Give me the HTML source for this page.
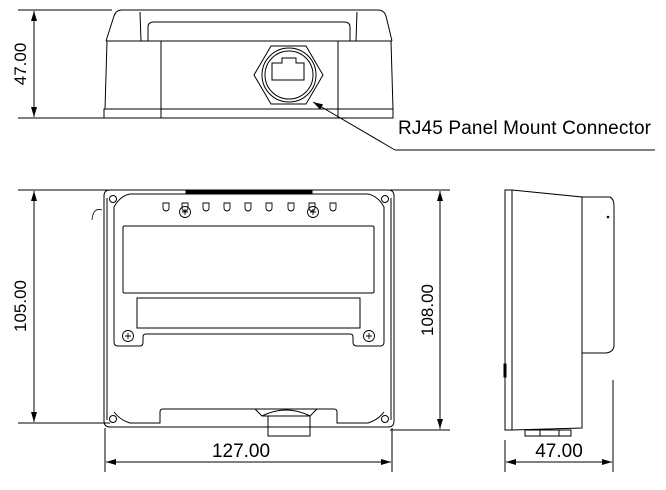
<!DOCTYPE html>
<html><head><style>body{margin:0;background:#fff}svg{display:block}</style></head><body>
<svg width="666" height="490" viewBox="0 0 666 490" xmlns="http://www.w3.org/2000/svg" font-family="Liberation Sans, sans-serif" fill="none" stroke="#000" stroke-width="1">
<defs><marker id="a" viewBox="0 0 10 6" refX="10" refY="3" markerWidth="10" markerHeight="6" orient="auto-start-reverse"><path d="M0,0L10,3L0,6z" fill="#000" stroke="none"/></marker></defs>
<!-- TOP VIEW -->
<line x1="18" y1="10" x2="112" y2="10"/><line x1="18" y1="118" x2="104" y2="118"/>
<line x1="34" y1="11" x2="34" y2="117" marker-start="url(#a)" marker-end="url(#a)"/>
<text x="0" y="0" transform="translate(26,64) rotate(-90)" text-anchor="middle" font-size="17" fill="#000" stroke="none">47.00</text>
<path d="M106,41 L114,16 Q116,10 122,10 L378,10 Q384,10 386,16 L392,41"/>
<path d="M140,12 L141,41 M357,12 L356,41"/>
<path d="M148,41 L148,27 Q148,22 154,22 L344,22 Q350,22 350,27 L350,41"/>
<line x1="106" y1="41" x2="392" y2="41"/>
<path d="M107,41 L105,109 M391,41 L393,109"/>
<rect x="104" y="109" width="289" height="9"/>
<path d="M161,41 V118 M338,41 V118"/>
<polygon points="254,75 271,46 306,46 323,75 306,104 271,104"/>
<circle cx="289" cy="75" r="27"/><circle cx="289" cy="75" r="24"/>
<path d="M272,80 V63 H282 V58 H296 V63 H304 V80 Z"/>
<line x1="395" y1="150" x2="313" y2="102" marker-end="url(#a)"/>
<line x1="395" y1="150" x2="655" y2="150"/>
<text x="398" y="134" font-size="19" textLength="253" fill="#000" stroke="none">RJ45 Panel Mount Connector</text>
<!-- FRONT VIEW -->
<line x1="18" y1="190" x2="110" y2="190"/><line x1="18" y1="423" x2="110" y2="423"/>
<line x1="34" y1="191" x2="34" y2="422" marker-start="url(#a)" marker-end="url(#a)"/>
<text transform="translate(26,306) rotate(-90)" text-anchor="middle" font-size="17" fill="#000" stroke="none">105.00</text>
<line x1="390" y1="190" x2="450" y2="190"/><line x1="390" y1="430" x2="450" y2="430"/>
<line x1="440" y1="191" x2="440" y2="429" marker-start="url(#a)" marker-end="url(#a)"/>
<text transform="translate(433,310) rotate(-90)" text-anchor="middle" font-size="17" fill="#000" stroke="none">108.00</text>
<line x1="105" y1="428" x2="105" y2="472"/><line x1="392" y1="428" x2="392" y2="472"/>
<line x1="106" y1="462" x2="391" y2="462" marker-start="url(#a)" marker-end="url(#a)"/>
<text x="241" y="457" text-anchor="middle" font-size="19" fill="#000" stroke="none">127.00</text>
<path d="M110,190 H388 Q394,190 394,196 V421 Q394,427 388,427 H110 Q104,427 104,421 V196 Q104,190 110,190 Z"/>
<line x1="107" y1="198" x2="107" y2="420"/><line x1="391" y1="198" x2="391" y2="420"/>
<path d="M114,207 Q120,196 130,194 L368,194 Q378,196 384,207"/>
<rect x="186" y="190" width="126" height="3" fill="#000"/>
<circle cx="113" cy="199" r="3.5"/><circle cx="385" cy="199" r="3.5"/><circle cx="113" cy="419" r="3.5"/><circle cx="385" cy="419" r="3.5"/>
<path d="M102,210 Q93,207 92,220" stroke-width="0.8"/>
<g stroke-width="0.9">
<path d="M163,203 v5 a3,3 0 0 0 6,0 v-5z M182,203 v5 a3,3 0 0 0 6,0 v-5z M203,203 v5 a3,3 0 0 0 6,0 v-5z M224,203 v5 a3,3 0 0 0 6,0 v-5z M245,203 v5 a3,3 0 0 0 6,0 v-5z M266,203 v5 a3,3 0 0 0 6,0 v-5z M288,203 v5 a3,3 0 0 0 6,0 v-5z M309,203 v5 a3,3 0 0 0 6,0 v-5z M330,203 v5 a3,3 0 0 0 6,0 v-5z"/>
<circle cx="185" cy="212" r="5.5"/><path d="M182,212h6M185,209v6"/>
<circle cx="313" cy="212" r="5.5"/><path d="M310,212h6M313,209v6"/>
<circle cx="128" cy="336" r="5.5"/><path d="M125,336h6M128,333v6"/>
<circle cx="369" cy="336" r="5.5"/><path d="M366,336h6M369,333v6"/>
</g>
<rect x="123" y="226" width="251" height="67" rx="1.5"/>
<rect x="137" y="298" width="223" height="30"/>
<path d="M114,207 V342 Q114,346 118,346 H140 Q143,346 143,342 V337 Q143,334 146,334 H350 Q353,334 353,337 V342 Q353,346 357,346 H380 Q384,346 384,342 V207"/>
<path d="M114,412 Q120,420 130,423 H160 V412 Q160,409 163,409 H334 Q337,409 337,412 V423 H368 Q378,420 384,412"/>
<path d="M255,409 L262,416 H310 L317,409 M262,416 Q286,404 310,416"/>
<rect x="268" y="416" width="42" height="20"/>
<!-- SIDE VIEW -->
<path d="M505,190 H512 V430 H505 Z"/>
<path d="M512,190 L582,197 V428 L512,430"/>
<path d="M582,197 H610 Q614,199 614,206 V345 Q614,352 606,353 H582"/>
<rect x="504" y="364" width="2" height="13"/>
<circle cx="608" cy="217" r="0.8" fill="#000"/>
<rect x="525" y="430" width="15" height="6"/><rect x="540" y="430" width="19" height="6"/><rect x="559" y="430" width="12" height="6"/>
<line x1="505" y1="440" x2="505" y2="472"/><line x1="613" y1="380" x2="613" y2="472"/>
<line x1="506" y1="462" x2="612" y2="462" marker-start="url(#a)" marker-end="url(#a)"/>
<text x="559" y="457" text-anchor="middle" font-size="19" fill="#000" stroke="none">47.00</text>
</svg>
</body></html>
